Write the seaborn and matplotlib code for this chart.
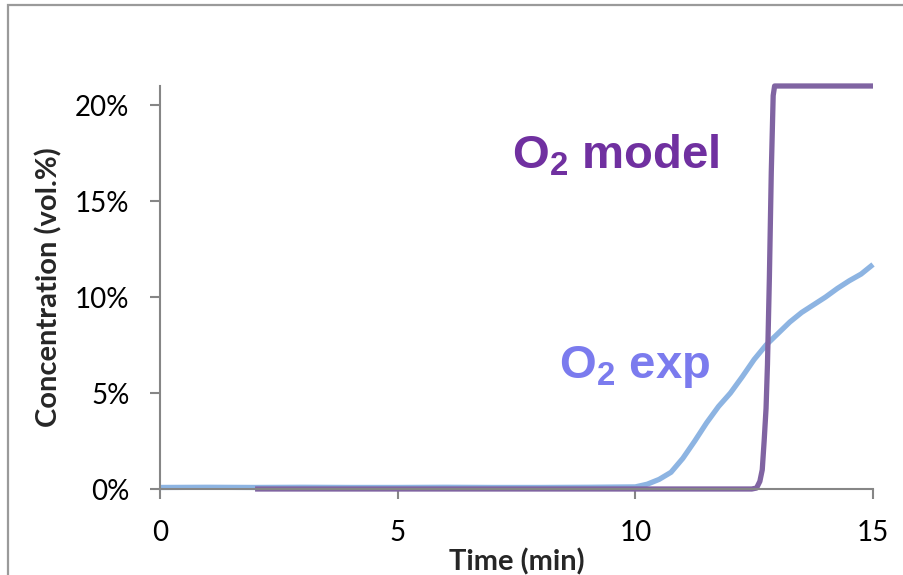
import matplotlib
matplotlib.use("Agg")
import matplotlib.pyplot as plt
import matplotlib.patches as mpatches
from matplotlib.ticker import PercentFormatter
import numpy as np
import pandas as pd
import seaborn as sns

# Measured O2 concentration (volume fraction) vs time in minutes
exp_time = [0, 1, 2, 3, 4, 5, 6, 7, 8, 9, 9.5, 10.0, 10.25, 10.5, 10.75, 11.0,
            11.25, 11.5, 11.75, 12.0, 12.25, 12.5, 12.75, 13.0, 13.25, 13.5,
            13.75, 14.0, 14.25, 14.5, 14.75, 15.0]
exp_o2 = [0.0008, 0.0009, 0.0008, 0.0009, 0.0008, 0.0008, 0.0009, 0.0008,
          0.0008, 0.0009, 0.0010, 0.0011, 0.0025, 0.0050, 0.0087, 0.0160,
          0.0250, 0.0345, 0.0430, 0.0500, 0.0585, 0.0675, 0.0750, 0.0810,
          0.0870, 0.0920, 0.0960, 0.1000, 0.1045, 0.1085, 0.1120, 0.1170]

# Model prediction of O2 breakthrough
model_time = [2.0, 6.0, 10.0, 12.0, 12.45, 12.55, 12.62, 12.67, 12.71, 12.75,
              12.78, 12.82, 12.86, 12.9, 12.93, 15.0]
model_o2 = [0.0, 0.0, 0.0, 0.0, 0.0, 0.0005, 0.004, 0.010, 0.025, 0.042,
            0.065, 0.110, 0.165, 0.205, 0.210, 0.210]

x_ticks = [0, 5, 10, 15]
y_ticks = [0.0, 0.05, 0.10, 0.15, 0.20]

sns.set_style("white")
plt.rcParams["font.family"] = ["Lato", "DejaVu Sans"]
plt.rcParams["mathtext.fontset"] = "custom"
plt.rcParams["mathtext.rm"] = "Liberation Sans:bold"
plt.rcParams["mathtext.bf"] = "Liberation Sans:bold"

exp_df = pd.DataFrame({"t": exp_time, "c": exp_o2})
model_df = pd.DataFrame({"t": model_time, "c": model_o2})

fig = plt.figure(figsize=(9.04, 5.75), dpi=100)
ax = fig.add_axes([160 / 904, 1 - 489 / 575, (873 - 160) / 904, (489 - 86) / 575])

# outer chart frame
fig.patches.append(mpatches.Rectangle((8 / 904, -0.05), 1.2, 1 - 5 / 575 + 0.05,
                                      transform=fig.transFigure, fill=False,
                                      edgecolor="#9a9a9a", linewidth=1.6))

sns.lineplot(data=exp_df, x="t", y="c", ax=ax, color="#8DB4E2")
sns.lineplot(data=model_df, x="t", y="c", ax=ax, color="#8064A2")
for line in ax.lines:
    line.set_linewidth(3.8)
    line.set_clip_on(False)
    line.set_solid_capstyle("butt")
    line.set_solid_joinstyle("round")

ax.set_xlim(0, 15)
ax.set_ylim(0, 0.21)
ax.set_xticks(x_ticks)
ax.set_yticks(y_ticks)
ax.yaxis.set_major_formatter(PercentFormatter(xmax=1, decimals=0))

for side in ["top", "right"]:
    ax.spines[side].set_visible(False)
for side in ["left", "bottom"]:
    ax.spines[side].set_color("#868686")
    ax.spines[side].set_linewidth(1.5)

ax.tick_params(axis="both", which="major", direction="out", length=7,
               width=1.5, color="#868686", labelsize=20, labelcolor="black",
               bottom=True, left=True)
ax.tick_params(axis="x", pad=15)
ax.tick_params(axis="y", pad=15)

ax.set_xlabel("Time (min)", fontsize=21, fontweight="bold", labelpad=2)
ax.set_ylabel("Concentration (vol.%)", fontsize=21, fontweight="bold", labelpad=9)

ax.text(11.78, 0.1672, r"O$_2$ model", color="#7030A0", fontsize=34,
        fontweight="bold", family="Liberation Sans", ha="right", va="baseline")
ax.text(11.57, 0.0578, r"O$_2$ exp", color="#7B7BEE", fontsize=34,
        fontweight="bold", family="Liberation Sans", ha="right", va="baseline")

fig.savefig("out.png", dpi=100)
